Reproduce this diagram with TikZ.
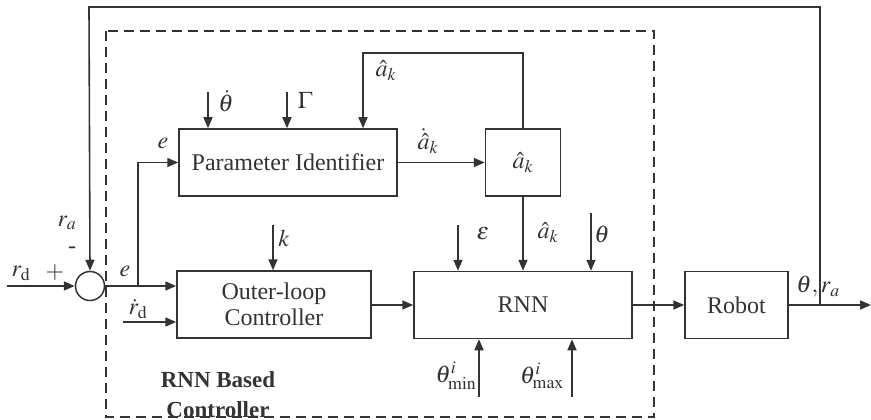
\documentclass[tikz,border=0pt]{standalone}
\usepackage{mathptmx}
\usepackage{fontspec}
\setmainfont{Liberation Serif}
\usetikzlibrary{arrows.meta}
\definecolor{ink}{HTML}{333333}
\tikzset{
  blk/.style={draw=ink, line width=1.5pt, rectangle, inner sep=0pt, text=ink, font=\fontsize{24}{27}\selectfont, align=center},
  arr/.style={draw=ink, line width=1.6pt, -{Triangle[length=11pt,width=9pt]}},
  ln/.style={draw=ink, line width=1.6pt},
  lbl/.style={text=ink, inner sep=0pt, font=\fontsize{24}{27}\selectfont},
  dbox/.style={draw=ink, line width=1.7pt, dash pattern=on 10pt off 6pt}
}
\begin{document}
\begin{tikzpicture}[x=1pt,y=-1pt]
\useasboundingbox (0,0) rectangle (871,420);
% dashed controller region
\draw[dbox] (106,31) rectangle (654,417);
% blocks
\node[blk, minimum width=218pt, minimum height=67pt] (pi) at (288,162.5) {Parameter Identifier};
\node[blk, minimum width=75pt, minimum height=67pt] (ak) at (523,162.5) {$\hat{a}_k$};
\node[blk, minimum width=194pt, minimum height=67pt] (ol) at (274,304.5) {Outer-loop\\[-1pt]Controller};
\node[blk, minimum width=218pt, minimum height=67pt] (rnn) at (523,305) {RNN};
\node[blk, minimum width=103pt, minimum height=67pt] (rob) at (736.5,305) {Robot};
\node[draw=ink, line width=1.5pt, circle, minimum size=29pt, inner sep=0pt] (sum) at (90,286) {};
% coordinates
\coordinate (rdin) at (7,286);
\coordinate (br) at (138,286);
\coordinate (rddot) at (123,322);
\coordinate (thd) at (208,92);
\coordinate (gam) at (287,92);
\coordinate (fbk) at (363,53);
\coordinate (kin) at (273,225);
\coordinate (epsin) at (458,225);
\coordinate (thin) at (591,213);
\coordinate (tmin) at (479,397);
\coordinate (tmax) at (572,397);
\coordinate (out) at (871,305);
\coordinate (fb) at (820,305);
\coordinate (fbtop) at (820,7);
\coordinate (fbl) at (89,7);
% connectors
\draw[arr] (rdin) -- (sum.west);
\draw[ln] (sum.east) -- (br);
\draw[arr] (br) -- (ol.west |- br);
\draw[arr] (br) |- (pi.west);
\draw[arr] (rddot) -- (ol.west |- rddot);
\draw[arr] (thd) -- (thd |- pi.north);
\draw[arr] (gam) -- (gam |- pi.north);
\draw[arr] (ak.north) |- (fbk) -- (fbk |- pi.north);
\draw[arr] (pi.east) -- (ak.west);
\draw[arr] (kin) -- (kin |- ol.north);
\draw[arr] (ol.east |- rnn.west) -- (rnn.west);
\draw[arr] (epsin) -- (epsin |- rnn.north);
\draw[arr] (ak.south) -- (rnn.north);
\draw[arr] (thin) -- (thin |- rnn.north);
\draw[arr] (tmin) -- (tmin |- rnn.south);
\draw[arr] (tmax) -- (tmax |- rnn.south);
\draw[arr] (rnn.east) -- (rob.west);
\draw[arr] (rob.east) -- (out);
\draw[arr] (fb) -- (fbtop) -- (fbl) -- (sum.north);
% labels
\node[lbl] (l_rd) at (21,273) {$r_{\mathrm{d}}$};
\node[lbl] (l_plus) at (55,273) {$+$};
\node[lbl] (l_ra) at (67,223) {$r_a$};
\node[lbl] (l_minus) at (72,250) {-};
\node[lbl] (l_e1) at (125,271) {$e$};
\node[lbl] (l_rdd) at (138,309) {$\dot{r}_{\mathrm{d}}$};
\node[lbl] (l_e2) at (163,143) {$e$};
\node[lbl] (l_thd) at (226,101) {$\dot{\theta}$};
\node[lbl] (l_gam) at (305,100) {$\Gamma$};
\node[lbl] (l_akt) at (386,71) {$\hat{a}_k$};
\node[lbl] (l_akd) at (428,141) {$\dot{\hat{a}}_k$};
\node[lbl] (l_k) at (284,238) {$k$};
\node[lbl] (l_eps) at (483,234) {$\varepsilon$};
\node[lbl] (l_akb) at (548,233) {$\hat{a}_k$};
\node[lbl] (l_th) at (602,234) {$\theta$};
\node[lbl] (l_tmin) at (456,376) {$\theta^{i}_{\min}$};
\node[lbl] (l_tmax) at (542,376) {$\theta^{i}_{\max}$};
\node[lbl] (l_out) at (818,287) {$\theta, r_a$};
\node[lbl, font=\fontsize{23}{26}\selectfont\bfseries, align=center] (l_ctl) at (218,395) {RNN Based\\[4pt]Controller};
\end{tikzpicture}
\end{document}
